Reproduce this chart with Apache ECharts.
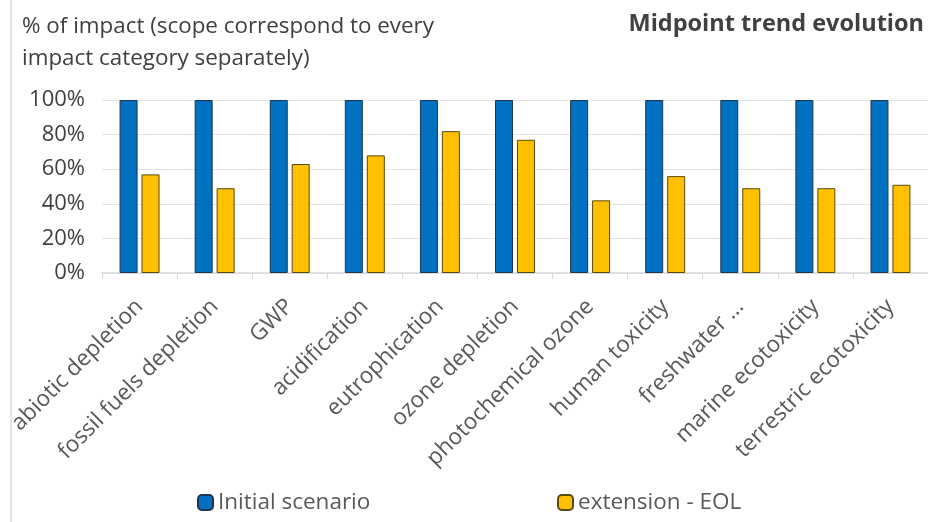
<!DOCTYPE html>
<html>
<head>
<meta charset="utf-8">
<script src="https://cdn.jsdelivr.net/npm/echarts@6/dist/echarts.min.js"></script>
<style>
  html, body { margin: 0; padding: 0; background: #fff; }
  #container { width: 928px; height: 522px; }
</style>
</head>
<body>
<div id="container"></div>
<script>
// categories and values
var categories = ['abiotic depletion', 'fossil fuels depletion', 'GWP', 'acidification', 'eutrophication',
    'ozone depletion', 'photochemical ozone', 'human toxicity', 'freshwater ...', 'marine ecotoxicity',
    'terrestric ecotoxicity'];
var initialScenario = [100, 100, 100, 100, 100, 100, 100, 100, 100, 100, 100];
var extensionEOL = [57, 49, 63, 68, 82, 77, 42, 56, 49, 49, 51];
var yTicks = [0, 20, 40, 60, 80, 100];

var myChart = echarts.init(document.getElementById('container'));
var font = '"Open Sans", Lato, sans-serif';

var option = {
    backgroundColor: '#fff',
    animation: false,
    textStyle: { fontFamily: font },
    graphic: [
        {
            type: 'line',
            shape: { x1: 11, y1: 0, x2: 11, y2: 522 },
            style: { stroke: '#d9d9d9', lineWidth: 1.5 }
        },
        {
            type: 'text',
            left: 22, top: 11,
            style: {
                text: '% of impact (scope correspond to every\nimpact category separately)',
                font: '22.4px ' + font,
                fill: '#404040',
                lineHeight: 32
            }
        },
        {
            type: 'text',
            right: 4, top: 12,
            style: {
                text: 'Midpoint trend evolution',
                font: 'bold 23.5px ' + font,
                fill: '#404040'
            }
        }
    ],
    legend: [
        {
            left: 192, top: 486,
            itemWidth: 15, itemHeight: 15, itemGap: 5,
            data: ['Initial scenario'],
            textStyle: { fontSize: 22.5, color: '#595959', fontFamily: font }
        },
        {
            left: 552, top: 486,
            itemWidth: 15, itemHeight: 15, itemGap: 5,
            data: ['extension - EOL'],
            textStyle: { fontSize: 22.5, color: '#595959', fontFamily: font }
        }
    ],
    grid: {
        left: 102, top: 100, width: 832, height: 173,
        containLabel: false
    },
    xAxis: {
        type: 'category',
        data: categories,
        axisLine: { lineStyle: { color: '#d9d9d9', width: 1.5 } },
        axisTick: { show: true, length: 6, lineStyle: { color: '#d9d9d9' } },
        axisLabel: {
            rotate: 45, margin: 30, interval: 0,
            fontSize: 22.5, color: '#595959', fontFamily: font
        }
    },
    yAxis: {
        type: 'value',
        min: yTicks[0], max: yTicks[yTicks.length - 1], interval: 20,
        axisLine: { show: false },
        axisTick: { show: false },
        splitLine: { lineStyle: { color: '#e4e4e4', width: 1 } },
        axisLabel: {
            formatter: '{value}%', margin: 17,
            fontSize: 22, color: '#404040', fontFamily: font
        }
    },
    series: [
        {
            name: 'Initial scenario',
            type: 'bar',
            data: initialScenario,
            barWidth: 18,
            barGap: '22%',
            itemStyle: { color: '#0070c0', borderColor: '#1f3550', borderWidth: 1 }
        },
        {
            name: 'extension - EOL',
            type: 'bar',
            data: extensionEOL,
            barWidth: 18,
            itemStyle: { color: '#ffc000', borderColor: '#5a4a10', borderWidth: 1 }
        }
    ]
};
myChart.setOption(option, true);
</script>
</body>
</html>
